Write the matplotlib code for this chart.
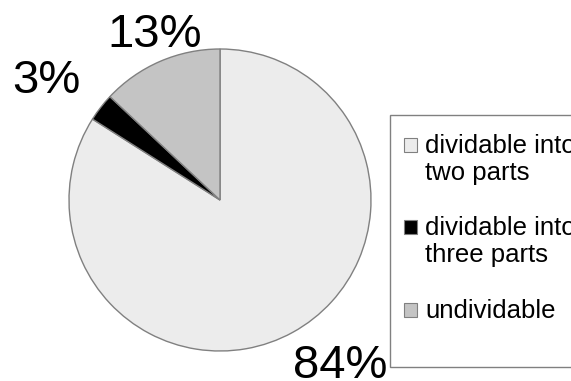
import matplotlib
matplotlib.use('Agg')
import matplotlib.pyplot as plt
from matplotlib.patches import Rectangle

# data
legend_labels = ['dividable into\ntwo parts', 'dividable into\nthree parts', 'undividable']
shares = [84, 3, 13]
pct_labels = ['84%', '3%', '13%']
colors = ['#ececec', '#000000', '#c4c4c4']

W, H = 571, 381
plt.rcParams['font.family'] = ['Liberation Sans', 'DejaVu Sans']

fig = plt.figure(figsize=(W / 100, H / 100), dpi=100)
ax = fig.add_axes([0, 0, 1, 1])

# pie, drawn in pixel coordinates (y up)
ax.pie(shares, colors=colors, startangle=90, counterclock=False,
       center=(220, H - 200), radius=151,
       wedgeprops=dict(edgecolor='#808080', linewidth=1))
ax.set_xlim(0, W)
ax.set_ylim(0, H)
ax.set_aspect('equal')
ax.axis('off')

# percentage labels (x centre, baseline from top)
pct_pos = [(340, 378), (46, 93), (155, 47)]
for txt, (x, yb) in zip(pct_labels, pct_pos):
    ax.text(x, H - yb, txt, fontsize=34, ha='center', va='baseline')

# legend box, runs past the right edge like the original
ax.add_patch(Rectangle((390, H - 367), 220, 252, facecolor='white',
                       edgecolor='#808080', linewidth=1, clip_on=False))
baselines = [153, 235, 318]
line_step = 27
for lab, col, yb in zip(legend_labels, colors, baselines):
    ax.add_patch(Rectangle((404, H - yb + 1), 13, 14, facecolor=col,
                           edgecolor='#808080', linewidth=0.8))
    for i, line in enumerate(lab.split('\n')):
        ax.text(425, H - yb - i * line_step, line, fontsize=18.5,
                ha='left', va='baseline')

fig.savefig('out.png', dpi=100)
